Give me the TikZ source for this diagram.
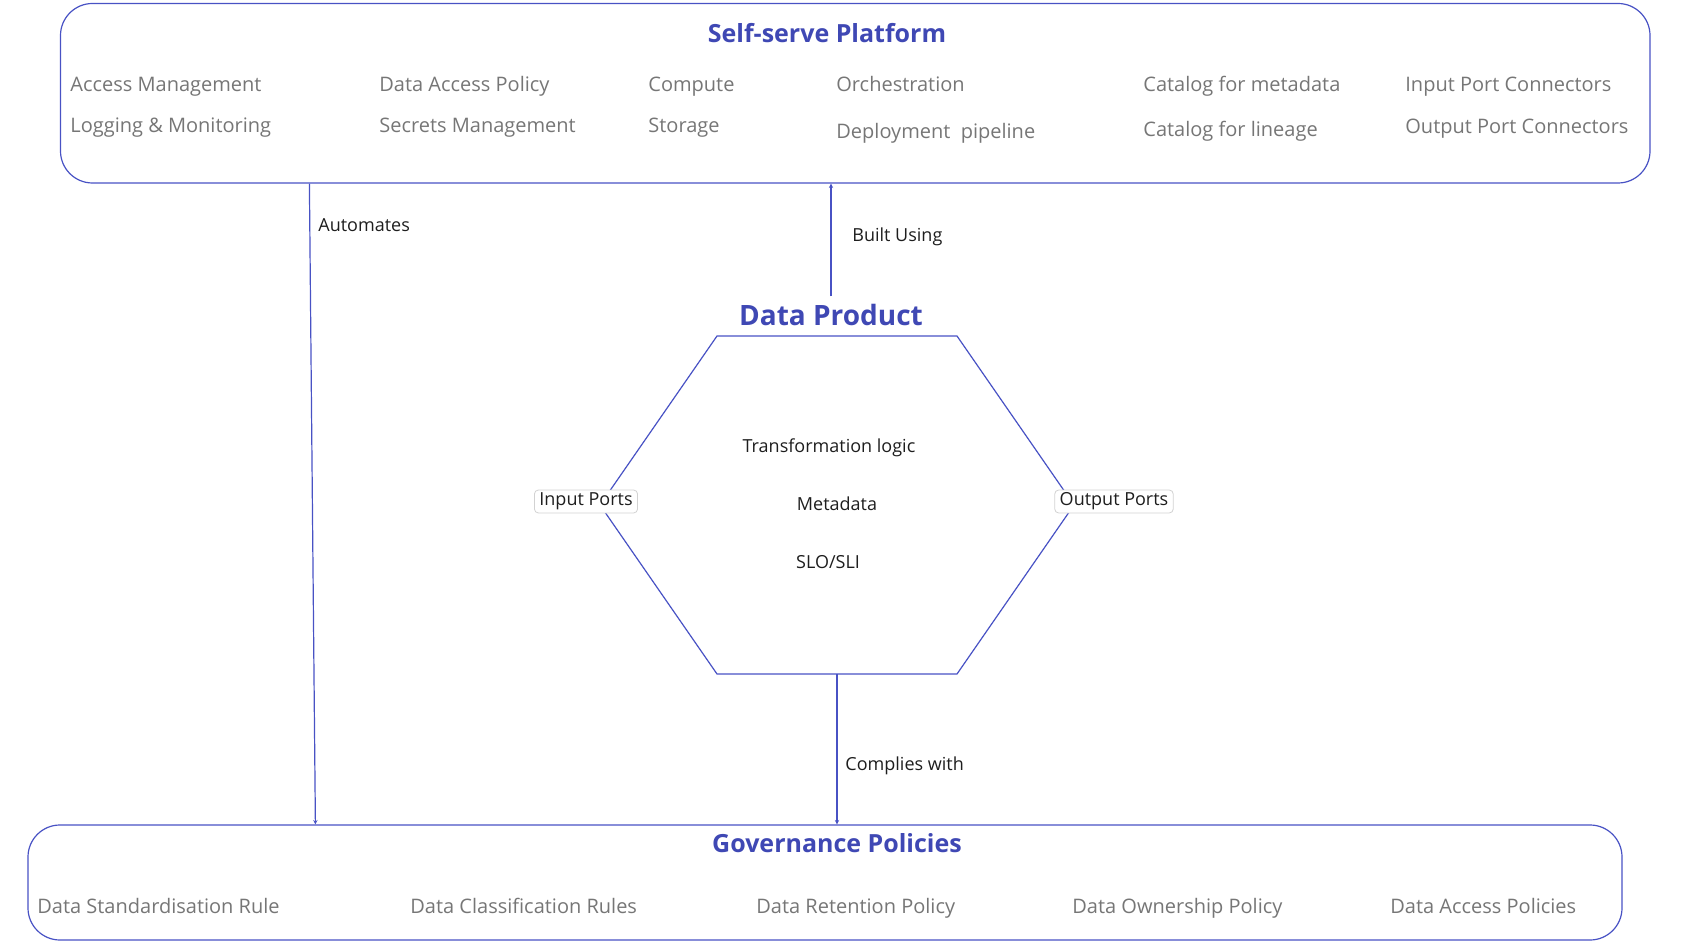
\documentclass[tikz,border=0pt]{standalone}
\usepackage{fontspec}
\setmainfont{Open Sans}
\usetikzlibrary{calc,arrows.meta}
\definecolor{linecol}{RGB}{72,82,196}
\definecolor{titlecol}{RGB}{63,72,180}
\definecolor{graytext}{RGB}{118,118,118}
\definecolor{darktext}{RGB}{30,30,30}
\definecolor{portborder}{RGB}{210,210,210}
\begin{document}
\begin{tikzpicture}[x=0.5pt,y=-0.5pt,
  panel/.style={draw=linecol,line width=0.6pt,rounded corners=16pt,inner sep=0pt,minimum width=#1},
  item/.style={font=\fontsize{10}{12}\selectfont,text=graytext,anchor=base west,inner sep=0pt},
  lbl/.style={font=\fontsize{9}{11}\selectfont,text=darktext,inner sep=0pt},
  ttl/.style={font=\fontsize{12.5}{15}\selectfont\bfseries,text=titlecol,anchor=base,inner sep=0pt},
  port/.style={draw=portborder,fill=white,line width=0.4pt,rounded corners=2pt,minimum height=11.5pt,inner xsep=2.5pt,inner ysep=0pt,font=\fontsize{9}{11}\selectfont,text=darktext},
  conn/.style={draw=linecol,line width=0.6pt,-{Stealth[length=2.2pt,width=2.2pt]}},
  hexline/.style={draw=linecol,line width=0.6pt}]
\useasboundingbox (0,0) rectangle (1688,941);
% panels
\node[panel=794.75pt,minimum height=89.75pt] (top) at (855.25,93.25) {};
\node[panel=797pt,minimum height=57.5pt] (bot) at (825,882.5) {};
% titles
\node[ttl] (sstitle) at (827,43) {Self-serve Platform};
\node[ttl] (govtitle) at (837,852) {Governance Policies};
\node[ttl,font=\fontsize{14}{17}\selectfont\bfseries] (dptitle) at (831,326) {Data Product};
% platform items
\node[item] (i1) at (70,91.5) {Access Management};
\node[item] (i2) at (70,132.5) {Logging \& Monitoring};
\node[item] (i3) at (379,91.5) {Data Access Policy};
\node[item] (i4) at (379,132.5) {Secrets Management};
\node[item] (i5) at (648,91.5) {Compute};
\node[item] (i6) at (648,132.5) {Storage};
\node[item] (i7) at (836,91.5) {Orchestration};
\node[item] (i8) at (836,138.5) {Deployment\ \ pipeline};
\node[item] (i9) at (1143,91.5) {Catalog for metadata};
\node[item] (i10) at (1143,136.5) {Catalog for lineage};
\node[item] (i11) at (1405,91.5) {Input Port Connectors};
\node[item] (i12) at (1405,134) {Output Port Connectors};
% governance items
\node[item] (g1) at (37,913.5) {Data Standardisation Rule};
\node[item] (g2) at (410,913.5) {Data Classification Rules};
\node[item] (g3) at (756,913.5) {Data Retention Policy};
\node[item] (g4) at (1072,913.5) {Data Ownership Policy};
\node[item] (g5) at (1390,913.5) {Data Access Policies};
% hexagon
\coordinate (h1) at (717,336);
\coordinate (h2) at (957,336);
\coordinate (h3) at (1074,505);
\coordinate (h4) at (957,674);
\coordinate (h5) at (717,674);
\coordinate (h6) at (600,505);
\coordinate (hexB) at (837,674);
\draw[hexline] (h1) -- (h2) -- (h3) -- (h4) -- (h5) -- (h6) -- cycle;
\node[lbl,anchor=base] (t1) at (829,452) {Transformation logic};
\node[lbl,anchor=base] (t2) at (837,510.5) {Metadata};
\node[lbl,anchor=base] (t3) at (828,568) {SLO/SLI};
\node[port] (inport) at (586,501.5) {Input Ports};
\node[port] (outport) at (1114,501.5) {Output Ports};
% connectors
\coordinate (autoTop) at ($(top.south west)+(249.5,0)$);
\coordinate (autoBot) at ($(bot.north west)+(288,0)$);
\draw[conn] (autoTop) -- (autoBot);
\draw[conn] ($(dptitle.north)+(0,-8)$) -- (dptitle.north |- top.south);
\draw[conn] (hexB) -- (hexB |- bot.north);
% connector labels
\node[lbl,anchor=base west] (lauto) at (318,232) {Automates};
\node[lbl,anchor=base west] (lbuilt) at (852,242) {Built Using};
\node[lbl,anchor=base west] (lcomp) at (845,770) {Complies with};
\end{tikzpicture}
\end{document}
